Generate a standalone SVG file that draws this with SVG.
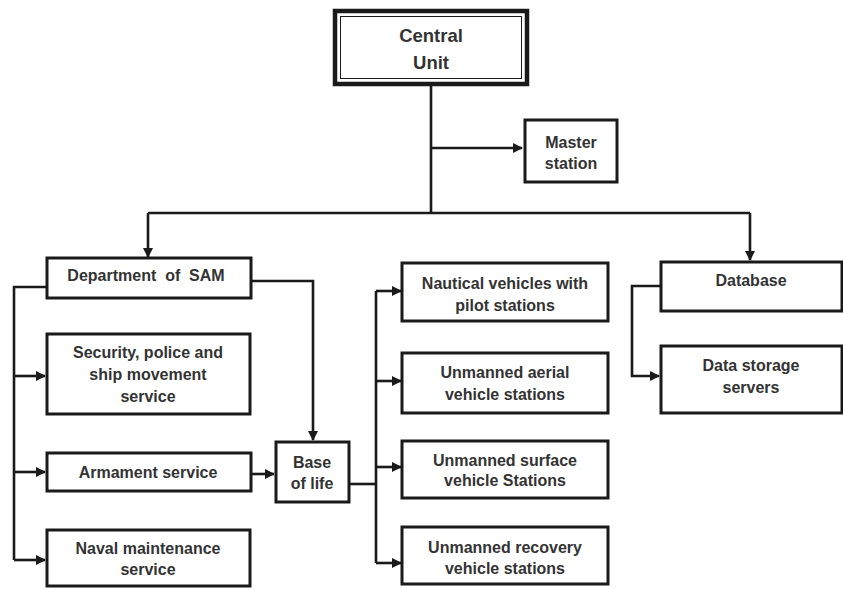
<svg xmlns="http://www.w3.org/2000/svg" width="843" height="590" viewBox="0 0 843 590">
<style>
.box{fill:#fff;stroke:#1a1a1a;stroke-width:3}
.t{font-family:"Liberation Sans",Arial,sans-serif;font-weight:bold;font-size:16px;fill:#333;text-anchor:middle}
.big{font-size:18.5px}
.c{fill:none;stroke:#1a1a1a;stroke-width:2.6}
</style>
<defs>
<marker id="ah" viewBox="0 0 10 10" refX="9" refY="5" markerWidth="10" markerHeight="10" markerUnits="userSpaceOnUse" orient="auto">
<path d="M0,0 L10,5 L0,10 Z" fill="#1a1a1a"/>
</marker>
</defs>
<rect width="843" height="590" fill="#fff"/>
<g id="connectors">
<path class="c" d="M431,85 V213"/>
<path class="c" d="M431,148 H522" marker-end="url(#ah)"/>
<path class="c" d="M148,213 H750"/>
<path class="c" d="M148,213 V257" marker-end="url(#ah)"/>
<path class="c" d="M750,213 V260" marker-end="url(#ah)"/>
<path class="c" d="M47,287 H14 V560"/>
<path class="c" d="M14,376 H45" marker-end="url(#ah)"/>
<path class="c" d="M14,472 H45" marker-end="url(#ah)"/>
<path class="c" d="M14,560 H45" marker-end="url(#ah)"/>
<path class="c" d="M252,281 H313 V440" marker-end="url(#ah)"/>
<path class="c" d="M252,474 H274" marker-end="url(#ah)"/>
<path class="c" d="M349,484 H376"/>
<path class="c" d="M376,291 V563"/>
<path class="c" d="M376,291 H401" marker-end="url(#ah)"/>
<path class="c" d="M376,381 H401" marker-end="url(#ah)"/>
<path class="c" d="M376,467 H401" marker-end="url(#ah)"/>
<path class="c" d="M376,563 H401" marker-end="url(#ah)"/>
<path class="c" d="M660,286 H632 V376 H659" marker-end="url(#ah)"/>
</g>
<g id="central-unit">
<rect x="335" y="11" width="192" height="73" fill="#fff" stroke="#1a1a1a" stroke-width="4.5"/>
<rect x="340.5" y="16.5" width="181" height="62" fill="none" stroke="#1a1a1a" stroke-width="1"/>
<text class="t big" x="431" y="42">Central</text>
<text class="t big" x="431" y="69">Unit</text>
</g>
<g id="master-station">
<rect class="box" x="525" y="120" width="92" height="62"/>
<text class="t" x="571" y="148">Master</text>
<text class="t" x="571" y="169">station</text>
</g>
<g id="department-sam">
<rect class="box" x="47" y="258" width="204" height="40"/>
<text class="t" x="146" y="281" xml:space="preserve">Department  of  SAM</text>
</g>
<g id="security">
<rect class="box" x="47" y="334" width="203" height="80"/>
<text class="t" x="148" y="358">Security, police and</text>
<text class="t" x="148" y="380">ship movement</text>
<text class="t" x="148" y="402">service</text>
</g>
<g id="armament">
<rect class="box" x="47" y="453" width="204" height="38"/>
<text class="t" x="148" y="478">Armament service</text>
</g>
<g id="naval-maintenance">
<rect class="box" x="47" y="530" width="203" height="56"/>
<text class="t" x="148" y="554">Naval maintenance</text>
<text class="t" x="148" y="575">service</text>
</g>
<g id="base-of-life">
<rect class="box" x="276" y="442" width="73" height="60"/>
<text class="t" x="312" y="468">Base</text>
<text class="t" x="312" y="489">of life</text>
</g>
<g id="nautical">
<rect class="box" x="402" y="263" width="206" height="58"/>
<text class="t" x="505" y="289">Nautical vehicles with</text>
<text class="t" x="505" y="311">pilot stations</text>
</g>
<g id="uav">
<rect class="box" x="402" y="353" width="206" height="60"/>
<text class="t" x="505" y="378">Unmanned aerial</text>
<text class="t" x="505" y="400">vehicle stations</text>
</g>
<g id="usv">
<rect class="box" x="402" y="441" width="206" height="57"/>
<text class="t" x="505" y="466">Unmanned surface</text>
<text class="t" x="505" y="486">vehicle Stations</text>
</g>
<g id="urv">
<rect class="box" x="402" y="527" width="206" height="57"/>
<text class="t" x="505" y="553">Unmanned recovery</text>
<text class="t" x="505" y="574">vehicle stations</text>
</g>
<g id="database">
<rect class="box" x="661" y="262" width="181" height="49"/>
<text class="t" x="751" y="286">Database</text>
</g>
<g id="data-storage">
<rect class="box" x="661" y="346" width="181" height="67"/>
<text class="t" x="751" y="371">Data storage</text>
<text class="t" x="751" y="393">servers</text>
</g>
</svg>
